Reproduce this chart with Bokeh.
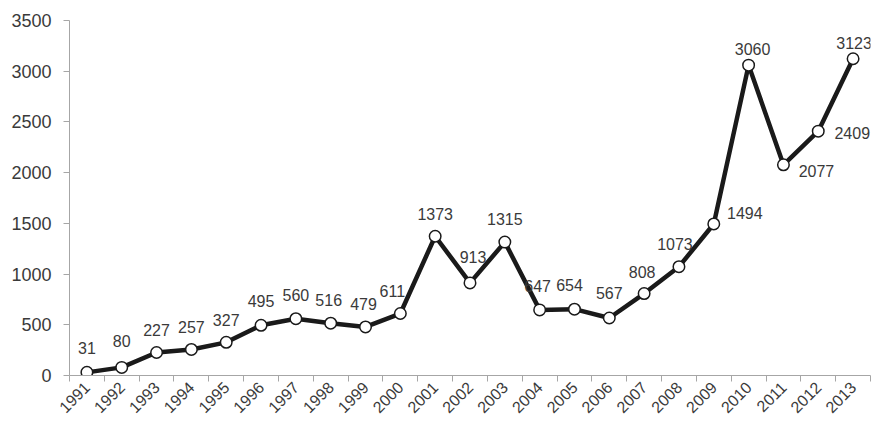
import math
from bokeh.plotting import figure
from bokeh.models import ColumnDataSource, FixedTicker, LabelSet, Range1d
from bokeh.core.properties import value
from bokeh.embed import file_html
from bokeh.resources import INLINE

years = ["1991", "1992", "1993", "1994", "1995", "1996", "1997", "1998", "1999", "2000",
         "2001", "2002", "2003", "2004", "2005", "2006", "2007", "2008", "2009", "2010",
         "2011", "2012", "2013"]
values = [31, 80, 227, 257, 327, 495, 560, 516, 479, 611, 1373, 913, 1315, 647, 654,
          567, 808, 1073, 1494, 3060, 2077, 2409, 3123]
y_ticks = [0, 500, 1000, 1500, 2000, 2500, 3000, 3500]

# label placement (screen px, image coordinates: +dy is down)
label_dx = [0, 0, 0, 0, 0, 0, 0, -2, -2, -8, 0, 3, 0, -2, -5, 0, -2, -4, 31, 4, 33, 34, 1]
label_dy = [-24, -26, -22, -22, -22, -24, -24, -23, -23, -23, -22, -26, -23, -24, -24,
            -25, -22, -23, -11, -16, 6, 2, -16]

xs = list(range(len(years)))
src = ColumnDataSource(dict(
    x=xs, y=values, txt=[str(v) for v in values],
    dx=label_dx, dy=[-d for d in label_dy],
))

FONT = "Liberation Sans"
TXT = "#3a3a3a"
AX = "#a6a6a6"

p = figure(width=871, height=421, output_backend="svg", toolbar_location=None,
           x_range=Range1d(-0.5, len(years) - 0.5), y_range=Range1d(0, 3500),
           min_border_left=69, min_border_right=1, min_border_top=20, min_border_bottom=40)
p.outline_line_color = None
p.xgrid.visible = False
p.ygrid.visible = False
p.background_fill_color = "white"
p.border_fill_color = "white"

p.line("x", "y", source=src, line_color="#1a1a1a", line_width=4.5)
p.scatter("x", "y", source=src, size=11.5, fill_color="white", line_color="#1a1a1a", line_width=1.5)

labels = LabelSet(x="x", y="y", text="txt", source=src, x_offset="dx", y_offset="dy",
                  text_align="center", text_baseline="middle", text_font=value(FONT),
                  text_font_size="16px", text_color=TXT)
p.add_layout(labels)

# x axis (category boundaries as minor ticks, year labels at centres)
p.xaxis.ticker = FixedTicker(ticks=xs, minor_ticks=[i - 0.5 for i in range(len(years) + 1)])
p.xaxis.major_label_overrides = {i: y for i, y in enumerate(years)}
p.xaxis.major_label_orientation = math.pi / 4
p.xaxis.major_tick_out = 0
p.xaxis.major_tick_in = 0
p.xaxis.minor_tick_out = 6
p.xaxis.minor_tick_in = 0
p.xaxis.minor_tick_line_color = AX
p.xaxis.axis_line_color = AX
p.xaxis.major_label_text_font = FONT
p.xaxis.major_label_text_font_size = "16px"
p.xaxis.major_label_text_color = TXT
p.xaxis.major_label_standoff = 3
p.xaxis.axis_label_standoff = 0

# y axis
p.yaxis.ticker = FixedTicker(ticks=y_ticks)
p.yaxis.major_tick_out = 6
p.yaxis.major_tick_in = 0
p.yaxis.minor_tick_line_color = None
p.yaxis.major_tick_line_color = AX
p.yaxis.axis_line_color = AX
p.yaxis.major_label_text_font = FONT
p.yaxis.major_label_text_font_size = "18px"
p.yaxis.major_label_text_color = TXT
p.yaxis.major_label_standoff = 12

open("out.html", "w").write(file_html(p, INLINE))
